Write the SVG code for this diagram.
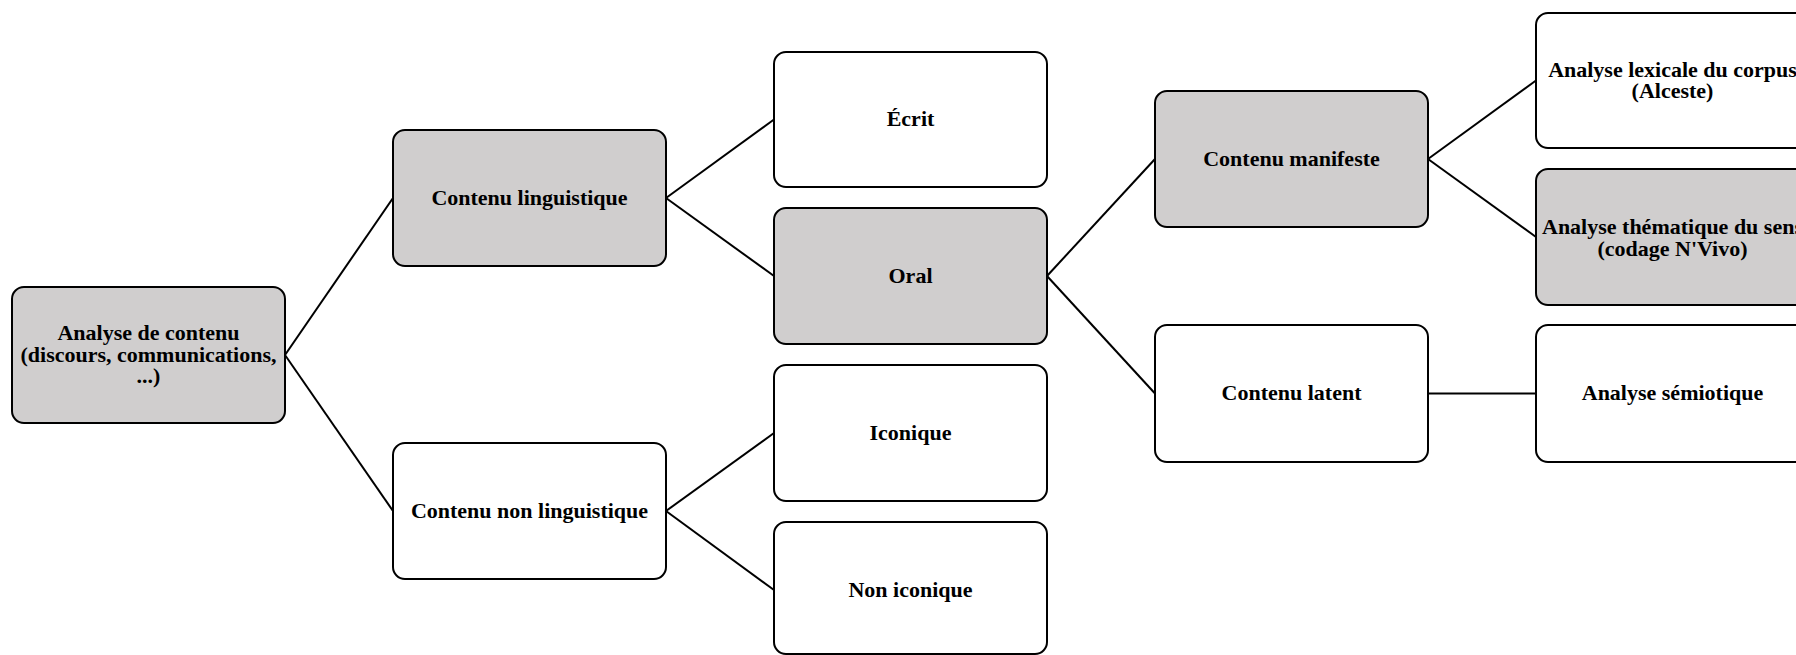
<svg xmlns="http://www.w3.org/2000/svg" width="1796" height="655" viewBox="0 0 1796 655">
<style>
.box{stroke:#000;stroke-width:2;}
.g{fill:#d0cece;}
.w{fill:#fff;}
.t{font-family:"Liberation Serif","Times New Roman",serif;font-weight:bold;font-size:22px;fill:#000;text-anchor:middle;}
.c{stroke:#000;stroke-width:2;fill:none;}
</style>
<rect width="1796" height="655" fill="#fff"/>
<g id="connectors">
<line class="c" x1="285" y1="355" x2="393" y2="198"/>
<line class="c" x1="285" y1="355" x2="393" y2="511"/>
<line class="c" x1="666" y1="198" x2="774" y2="119.5"/>
<line class="c" x1="666" y1="198" x2="774" y2="276"/>
<line class="c" x1="666" y1="511" x2="774" y2="433"/>
<line class="c" x1="666" y1="511" x2="774" y2="590"/>
<line class="c" x1="1047" y1="276" x2="1155" y2="159"/>
<line class="c" x1="1047" y1="276" x2="1155" y2="393.5"/>
<line class="c" x1="1428" y1="159" x2="1536" y2="80.5"/>
<line class="c" x1="1428" y1="159" x2="1536" y2="237"/>
<line class="c" x1="1428" y1="393.5" x2="1536" y2="393.5"/>
</g>
<g id="root">
<rect class="box g" x="12" y="287" width="273" height="136" rx="12"/>
<text class="t" x="148.5" y="340">Analyse de contenu</text>
<text class="t" x="148.5" y="361.5">(discours, communications,</text>
<text class="t" x="148.5" y="383">...)</text>
</g>
<g id="contenu-linguistique">
<rect class="box g" x="393" y="130" width="273" height="136" rx="12"/>
<text class="t" x="529.5" y="204.5">Contenu linguistique</text>
</g>
<g id="contenu-non-linguistique">
<rect class="box w" x="393" y="443" width="273" height="136" rx="12"/>
<text class="t" x="529.5" y="517.5">Contenu non linguistique</text>
</g>
<g id="ecrit">
<rect class="box w" x="774" y="52" width="273" height="135" rx="12"/>
<text class="t" x="910.5" y="126">Écrit</text>
</g>
<g id="oral">
<rect class="box g" x="774" y="208" width="273" height="136" rx="12"/>
<text class="t" x="910.5" y="282.5">Oral</text>
</g>
<g id="iconique">
<rect class="box w" x="774" y="365" width="273" height="136" rx="12"/>
<text class="t" x="910.5" y="439.5">Iconique</text>
</g>
<g id="non-iconique">
<rect class="box w" x="774" y="522" width="273" height="132" rx="12"/>
<text class="t" x="910.5" y="596.5">Non iconique</text>
</g>
<g id="contenu-manifeste">
<rect class="box g" x="1155" y="91" width="273" height="136" rx="12"/>
<text class="t" x="1291.5" y="165.5">Contenu manifeste</text>
</g>
<g id="contenu-latent">
<rect class="box w" x="1155" y="325" width="273" height="137" rx="12"/>
<text class="t" x="1291.5" y="400">Contenu latent</text>
</g>
<g id="analyse-lexicale">
<rect class="box w" x="1536" y="13" width="273" height="135" rx="12"/>
<text class="t" x="1672.5" y="76.5">Analyse lexicale du corpus</text>
<text class="t" x="1672.5" y="98">(Alceste)</text>
</g>
<g id="analyse-thematique">
<rect class="box g" x="1536" y="169" width="273" height="136" rx="12"/>
<text class="t" x="1672.5" y="234">Analyse thématique du sens</text>
<text class="t" x="1672.5" y="256">(codage N'Vivo)</text>
</g>
<g id="analyse-semiotique">
<rect class="box w" x="1536" y="325" width="273" height="137" rx="12"/>
<text class="t" x="1672.5" y="400">Analyse sémiotique</text>
</g>
</svg>
